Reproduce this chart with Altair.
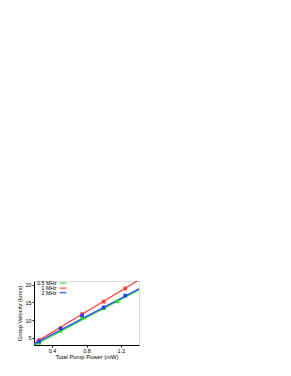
import altair as alt
import pandas as pd

# marker data
power = [0.25, 0.5, 0.75, 1.0, 1.25]
v_1mhz = [4.4, 7.8, 11.7, 15.2, 18.9]
v_2mhz = [4.0, 7.6, 11.3, 13.6, 16.9]
power_05 = [0.25, 0.5, 0.75, 1.0, 1.16]
v_05mhz = [3.6, 7.0, 10.6, 13.3, 15.3]

# fitted lines (end points)
line_x = [0.19, 1.41]
line_1mhz = [3.5, 21.3]
line_2mhz = [3.3, 18.8]
line_05mhz = [2.9, 18.5]

series = ["0.5 MHz", "1 MHz", "2 MHz"]
colors = ["#22e022", "#ff3b3b", "#2a3dff"]
x_ticks = [0.4, 0.8, 1.2]
y_ticks = [5, 10, 15, 20]

rows = []
for p, v in zip(power_05, v_05mhz):
    rows.append(dict(p=p, v=v, s="0.5 MHz", kind="pt"))
for p, v in zip(power, v_1mhz):
    rows.append(dict(p=p, v=v, s="1 MHz", kind="pt"))
for p, v in zip(power, v_2mhz):
    rows.append(dict(p=p, v=v, s="2 MHz", kind="pt"))
for name, ys_ in zip(series, [line_05mhz, line_1mhz, line_2mhz]):
    for p, v in zip(line_x, ys_):
        rows.append(dict(p=p, v=v, s=name, kind="line"))
df = pd.DataFrame(rows)

xs = alt.Scale(domain=[0.19, 1.41], nice=False, zero=False)
ys = alt.Scale(domain=[3, 21], nice=False, zero=False)
cs = alt.Scale(domain=series, range=colors)

common = dict(grid=False, tickSize=2, labelFontSize=5.5, titleFontSize=5.8,
              domainColor="black", tickColor="black", labelColor="black",
              titleColor="black", labelFont="Liberation Sans",
              titleFont="Liberation Sans", titleFontWeight="normal",
              labelOverlap=False, labelBound=False, labelFlush=False)
xax = alt.Axis(values=x_ticks, format=".1f", title="Total Pump Power (mW)",
               labelPadding=1, titlePadding=0, **common)
yax = alt.Axis(values=y_ticks, title="Group Velocity (km/s)",
               labelPadding=1, titlePadding=2, **common)

X = alt.X("p:Q", scale=xs, axis=xax)
Y = alt.Y("v:Q", scale=ys, axis=yax)
C = alt.Color("s:N", scale=cs, legend=None)

base = alt.Chart(df).encode(x=X, y=Y, color=C)
line_layer = base.mark_line(strokeWidth=1.2, clip=True).transform_filter(
    alt.datum.kind == "line").encode(detail="s:N")
pt_layer = base.mark_square(size=13, opacity=1).transform_filter(alt.datum.kind == "pt")

leg = pd.DataFrame({"s": series, "x0": [0.487, 0.487, 0.487], "x1": [0.566, 0.566, 0.566],
                    "y": [20.4, 19.0, 17.7]})
leg_lines = alt.Chart(leg).mark_rule(strokeWidth=1.1).encode(
    x=alt.X("x0:Q", scale=xs, axis=xax), x2="x1", y=alt.Y("y:Q", scale=ys, axis=yax),
    color=C,
)
leg_text = alt.Chart(leg).mark_text(align="right", baseline="middle", fontSize=5.2,
                                    font="Liberation Sans", color="black", dx=-3).encode(
    x=alt.X("x0:Q", scale=xs, axis=xax), y=alt.Y("y:Q", scale=ys, axis=yax), text="s:N",
)

chart = alt.layer(line_layer, pt_layer, leg_lines, leg_text).properties(
    width=105, height=64,
    autosize=alt.AutoSizeParams(type="none"),
    padding={"left": 26, "top": 273, "right": 10, "bottom": 30},
).configure_view(stroke="black", strokeWidth=1).configure(background="white")

chart.save("out.html", embed_options={"renderer": "svg", "actions": False})
